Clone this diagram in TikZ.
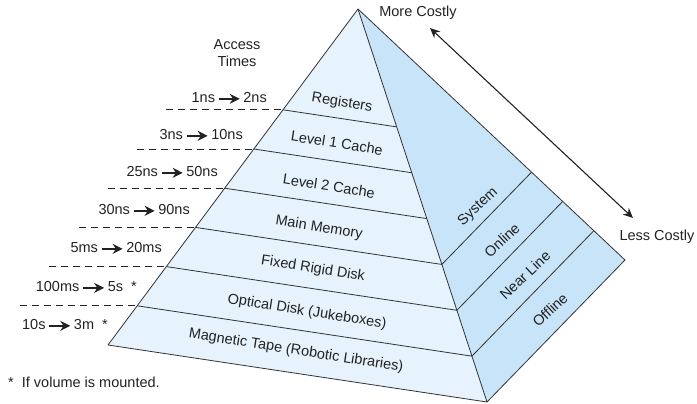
\documentclass[tikz,border=0pt]{standalone}
\usepackage{fontspec}
\setmainfont{Liberation Sans}
\usetikzlibrary{arrows.meta, calc}

\definecolor{frontblue}{HTML}{E6F2FC}
\definecolor{sideblue}{HTML}{C8E4F8}
\definecolor{edgegray}{HTML}{333333}
\definecolor{inkgray}{HTML}{222222}

% small bold arrow used inside the access time labels
\newcommand{\upto}{\kern3pt\tikz[baseline=-0.45ex]\draw[inkgray,line width=1.4pt,-{Stealth[length=10pt,width=10pt]}] (0pt,0pt) -- (21pt,0pt);\kern3pt}

\begin{document}
\begin{tikzpicture}[
    x=1pt, y=-1pt,
    face/.style={draw=edgegray, line width=0.8pt, line join=round},
    level/.style={edgegray, line width=0.8pt},
    guide/.style={inkgray, line width=0.9pt, dash pattern=on 7pt off 5pt},
    cost/.style={inkgray, line width=1.1pt,
        {Stealth[length=10pt,width=9pt]}-{Stealth[length=10pt,width=9pt]}},
    lbl/.style={text=inkgray, inner sep=0pt, font=\fontsize{14.5}{17.5}\selectfont}
]

\useasboundingbox (0,0) rectangle (697,404);

% Corners
\coordinate (A) at (358,9);
\coordinate (BL) at (108,345);
\coordinate (BR) at (487,402);
\coordinate (RC) at (625,260);

% =========================
% Faces
% =========================
\fill[sideblue] (A) -- (BR) -- (RC) -- cycle;
\fill[frontblue] (A) -- (BL) -- (BR) -- cycle;

\foreach \k in {0,...,6}
{
    % level points on the three edges
    \pgfmathsetmacro\tk{0.3+\k*0.7/6}
    \coordinate (L\k) at ($(A)!\tk!(BL)$);
    \coordinate (R\k) at ($(A)!\tk!(BR)$);
    \coordinate (O\k) at ($(A)!\tk!(RC)$);
}

% Layer lines on the front face
\foreach \k in {0,...,5}
{
    \draw[level] (L\k) -- (R\k);
}

% Layer lines on the side face
\foreach \k in {3,4,5}
{
    \draw[level] (R\k) -- (O\k);
}

\draw[face] (A) -- (BL) -- (BR) -- (RC) -- cycle;
\draw[face] (A) -- (BR);

% =========================
% Layer names
% =========================
\foreach \x/\y/\name in {342/103/Registers, 337/143/Level 1 Cache,
    329/186/Level 2 Cache, 319/228/Main Memory, 313/269/Fixed Rigid Disk,
    307/312/Optical Disk (Jukeboxes), 296/351/Magnetic Tape (Robotic Libraries)}
{
    \node[lbl, rotate=-9] at (\x,\y) {\name};
}

\foreach \x/\y/\name in {478/207/System, 502/240/Online,
    525/275/Near Line, 550/310/Offline}
{
    \node[lbl, rotate=43] at (\x,\y) {\name};
}

% =========================
% Access times
% =========================
\node[lbl, align=center] (access) at (237,53) {Access\\Times};

\foreach \k in {0,...,5}
{
    \draw[guide] ($(L\k)+(-117,0)$) -- (L\k);
}

\node[lbl, anchor=east] (t1) at (267,98) {1ns\upto 2ns};
\node[lbl, anchor=east] (t2) at (243,135) {3ns\upto 10ns};
\node[lbl, anchor=east] (t3) at (218,172) {25ns\upto 50ns};
\node[lbl, anchor=east] (t4) at (190,210) {30ns\upto 90ns};
\node[lbl, anchor=east] (t5) at (162,248) {5ms\upto 20ms};
\node[lbl, anchor=east] (t6) at (137,287) {100ms\upto 5s~~*};
\node[lbl, anchor=east] (t7) at (108,325) {10s\upto 3m~~*};

\node[lbl, anchor=west] (note) at (8,382) {*~~If volume is mounted.};

% =========================
% Cost
% =========================
\node[lbl] (more) at (418,13) {More Costly};
\node[lbl] (less) at (657,237) {Less Costly};
\coordinate (costhi) at (430,28);
\coordinate (costlo) at (633,218);
\draw[cost] (costlo) -- (costhi);

\end{tikzpicture}
\end{document}
